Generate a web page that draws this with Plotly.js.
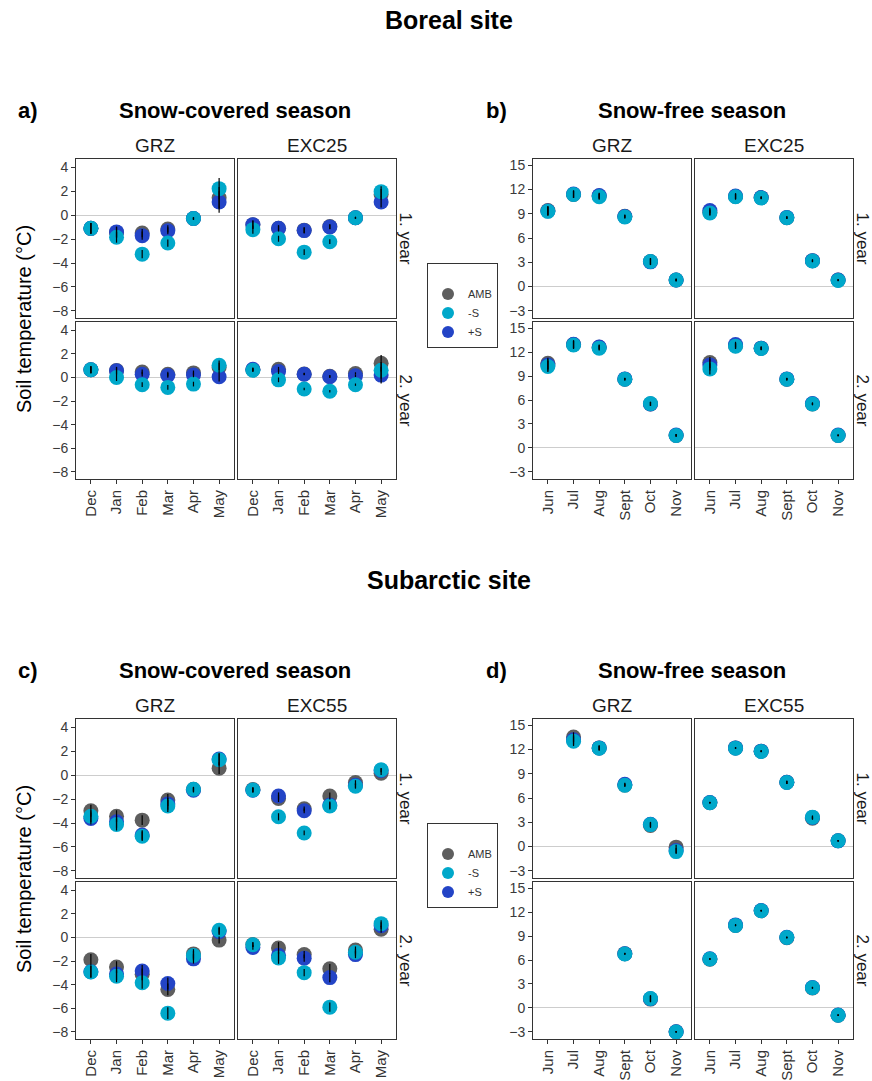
<!DOCTYPE html>
<html><head><meta charset="utf-8">
<script src="https://cdn.plot.ly/plotly-3.0.1.min.js"></script>
<style>html,body{margin:0;padding:0;background:#fff}</style>
</head><body><div id="chart" style="width:872px;height:1081px"></div>
<script>
// ---------- categories ----------
const snowMonths = ['Dec','Jan','Feb','Mar','Apr','May'];
const freeMonths = ['Jun','Jul','Aug','Sept','Oct','Nov'];
const treatmentNames = ['AMB','-S','+S'];
const plotNames = {boreal:['GRZ','EXC25'], subarctic:['GRZ','EXC55']};
const yearLabels = ['1. year','2. year'];

// ---------- Boreal, snow-covered season ----------
const boreal_cov_y1_GRZ_AMB = [-1.1, -1.45, -1.5, -1.15, -0.28, 1.46];
const boreal_cov_y1_GRZ_mS  = [-1.1, -1.85, -3.26, -2.33, -0.28, 2.22];
const boreal_cov_y1_GRZ_pS  = [-1.1, -1.4, -1.71, -1.3, -0.28, 1.1];
const boreal_cov_y1_GRZ_err = [0.45, 0.45, 0.35, 0.3, 0.1, 0.9];
const boreal_cov_y1_EXC_AMB = [-0.8, -1.1, -1.25, -0.95, -0.22, 1.74];
const boreal_cov_y1_EXC_mS  = [-1.21, -1.97, -3.09, -2.22, -0.22, 1.97];
const boreal_cov_y1_EXC_pS  = [-0.79, -1.1, -1.29, -0.98, -0.22, 1.1];
const boreal_cov_y1_EXC_err = [0.35, 0.25, 0.25, 0.2, 0.08, 0.45];
const boreal_cov_y2_GRZ_AMB = [0.65, 0.6, 0.47, 0.28, 0.39, 0.84];
const boreal_cov_y2_GRZ_mS  = [0.65, 0.0, -0.61, -0.84, -0.56, 1.03];
const boreal_cov_y2_GRZ_pS  = [0.65, 0.56, 0.28, 0.17, 0.22, 0.06];
const boreal_cov_y2_GRZ_err = [0.3, 0.3, 0.2, 0.2, 0.2, 0.4];
const boreal_cov_y2_EXC_AMB = [0.65, 0.7, 0.3, 0.1, 0.34, 1.2];
const boreal_cov_y2_EXC_mS  = [0.61, -0.2, -0.98, -1.17, -0.61, 0.61];
const boreal_cov_y2_EXC_pS  = [0.7, 0.5, 0.28, 0.06, 0.14, 0.2];
const boreal_cov_y2_EXC_err = [0.15, 0.2, 0.1, 0.1, 0.1, 0.7];

// ---------- Boreal, snow-free season ----------
const boreal_free_y1_GRZ_AMB = [9.4, 11.4, 11.2, 8.7, 3.1, 0.8];
const boreal_free_y1_GRZ_mS  = [9.3, 11.4, 11.1, 8.6, 3.1, 0.8];
const boreal_free_y1_GRZ_pS  = [9.35, 11.45, 11.25, 8.65, 3.05, 0.8];
const boreal_free_y1_GRZ_err = [0.55, 0.45, 0.35, 0.2, 0.4, 0.15];
const boreal_free_y1_EXC_AMB = [9.2, 11.15, 11.0, 8.5, 3.2, 0.8];
const boreal_free_y1_EXC_mS  = [9.1, 11.1, 10.95, 8.5, 3.15, 0.75];
const boreal_free_y1_EXC_pS  = [9.4, 11.2, 11.0, 8.55, 3.2, 0.8];
const boreal_free_y1_EXC_err = [0.35, 0.35, 0.15, 0.15, 0.15, 0.1];
const boreal_free_y2_GRZ_AMB = [10.6, 12.95, 12.6, 8.6, 5.5, 1.55];
const boreal_free_y2_GRZ_mS  = [10.2, 12.9, 12.5, 8.6, 5.55, 1.55];
const boreal_free_y2_GRZ_pS  = [10.4, 13.0, 12.65, 8.65, 5.5, 1.6];
const boreal_free_y2_GRZ_err = [0.7, 0.5, 0.3, 0.15, 0.25, 0.15];
const boreal_free_y2_EXC_AMB = [10.7, 12.8, 12.5, 8.6, 5.5, 1.55];
const boreal_free_y2_EXC_mS  = [9.9, 12.75, 12.45, 8.6, 5.5, 1.55];
const boreal_free_y2_EXC_pS  = [10.4, 12.95, 12.5, 8.65, 5.55, 1.6];
const boreal_free_y2_EXC_err = [0.7, 0.35, 0.2, 0.15, 0.15, 0.1];

// ---------- Subarctic, snow-covered season ----------
const subarctic_cov_y1_GRZ_AMB = [-2.98, -3.43, -3.76, -2.08, -1.18, 0.59];
const subarctic_cov_y1_GRZ_mS  = [-3.43, -4.13, -5.11, -2.58, -1.18, 1.29];
const subarctic_cov_y1_GRZ_pS  = [-3.62, -3.9, -5.0, -2.4, -1.25, 1.35];
const subarctic_cov_y1_GRZ_err = [0.5, 0.5, 0.4, 0.5, 0.2, 0.5];
const subarctic_cov_y1_EXC_AMB = [-1.2, -1.94, -2.81, -1.74, -0.62, 0.17];
const subarctic_cov_y1_EXC_mS  = [-1.24, -3.48, -4.83, -2.58, -0.93, 0.45];
const subarctic_cov_y1_EXC_pS  = [-1.25, -1.74, -2.98, -2.5, -0.85, 0.4];
const subarctic_cov_y1_EXC_err = [0.2, 0.3, 0.2, 0.3, 0.2, 0.15];
const subarctic_cov_y2_GRZ_AMB = [-1.89, -2.51, -3.12, -4.4, -1.39, -0.22];
const subarctic_cov_y2_GRZ_mS  = [-2.92, -3.29, -3.84, -6.41, -1.53, 0.61];
const subarctic_cov_y2_GRZ_pS  = [-2.9, -3.1, -2.84, -3.9, -1.81, 0.5];
const subarctic_cov_y2_GRZ_err = [0.5, 0.5, 0.5, 0.5, 0.4, 0.3];
const subarctic_cov_y2_EXC_AMB = [-0.6, -0.89, -1.45, -2.65, -1.06, 0.7];
const subarctic_cov_y2_EXC_mS  = [-0.61, -1.73, -2.98, -5.9, -1.25, 1.17];
const subarctic_cov_y2_EXC_pS  = [-0.84, -1.5, -1.75, -3.4, -1.45, 1.0];
const subarctic_cov_y2_EXC_err = [0.2, 0.5, 0.3, 0.4, 0.3, 0.3];

// ---------- Subarctic, snow-free season ----------
const subarctic_free_y1_GRZ_AMB = [null, 13.54, 12.2, 7.6, 2.6, -0.08];
const subarctic_free_y1_GRZ_mS  = [null, 13.04, 12.17, 7.58, 2.71, -0.63];
const subarctic_free_y1_GRZ_pS  = [null, 13.2, 12.2, 7.7, 2.75, -0.5];
const subarctic_free_y1_GRZ_err = [null, 0.6, 0.3, 0.2, 0.3, 0.3];
const subarctic_free_y1_EXC_AMB = [5.42, 12.2, 11.8, 7.95, 3.5, 0.71];
const subarctic_free_y1_EXC_mS  = [5.42, 12.17, 11.75, 7.92, 3.63, 0.71];
const subarctic_free_y1_EXC_pS  = [5.45, 12.2, 11.8, 7.95, 3.6, 0.7];
const subarctic_free_y1_EXC_err = [0.1, 0.1, 0.1, 0.2, 0.2, 0.1];
const subarctic_free_y2_GRZ_AMB = [null, null, null, 6.8, 1.1, -3.0];
const subarctic_free_y2_GRZ_mS  = [null, null, null, 6.76, 1.18, -3.03];
const subarctic_free_y2_GRZ_pS  = [null, null, null, 6.78, 1.15, -3.0];
const subarctic_free_y2_GRZ_err = [null, null, null, 0.1, 0.4, 0.1];
const subarctic_free_y2_EXC_AMB = [6.1, 10.34, 12.18, 8.8, 2.5, -0.92];
const subarctic_free_y2_EXC_mS  = [6.13, 10.34, 12.18, 8.82, 2.52, -0.92];
const subarctic_free_y2_EXC_pS  = [6.15, 10.4, 12.2, 8.85, 2.55, -0.9];
const subarctic_free_y2_EXC_err = [0.1, 0.1, 0.1, 0.1, 0.1, 0.1];

// ---------- styling ----------
const W = 872, H = 1081;
const FONT = 'Liberation Sans, Arial, Helvetica, sans-serif';
const colors = {AMB:'#5e5e5e', '-S':'#00a8ca', '+S':'#2344c6'};
const groupX = [[[76,234],[238,396]], [[533,691],[695,853]]]; // season: cov, free
const siteY  = [[[159,318],[322,479]], [[719,878],[882,1039]]]; // site: boreal, subarctic
const yCfg = {
  cov:  {range:[-8.6, 4.7],  tickvals:[-8,-6,-4,-2,0,2,4]},
  free: {range:[-3.9, 15.78], tickvals:[-3,0,3,6,9,12,15]}
};

const panels = [
  ['boreal',0,'cov',0,0, boreal_cov_y1_GRZ_AMB, boreal_cov_y1_GRZ_mS, boreal_cov_y1_GRZ_pS, boreal_cov_y1_GRZ_err],
  ['boreal',0,'cov',1,0, boreal_cov_y1_EXC_AMB, boreal_cov_y1_EXC_mS, boreal_cov_y1_EXC_pS, boreal_cov_y1_EXC_err],
  ['boreal',0,'cov',0,1, boreal_cov_y2_GRZ_AMB, boreal_cov_y2_GRZ_mS, boreal_cov_y2_GRZ_pS, boreal_cov_y2_GRZ_err],
  ['boreal',0,'cov',1,1, boreal_cov_y2_EXC_AMB, boreal_cov_y2_EXC_mS, boreal_cov_y2_EXC_pS, boreal_cov_y2_EXC_err],
  ['boreal',0,'free',0,0, boreal_free_y1_GRZ_AMB, boreal_free_y1_GRZ_mS, boreal_free_y1_GRZ_pS, boreal_free_y1_GRZ_err],
  ['boreal',0,'free',1,0, boreal_free_y1_EXC_AMB, boreal_free_y1_EXC_mS, boreal_free_y1_EXC_pS, boreal_free_y1_EXC_err],
  ['boreal',0,'free',0,1, boreal_free_y2_GRZ_AMB, boreal_free_y2_GRZ_mS, boreal_free_y2_GRZ_pS, boreal_free_y2_GRZ_err],
  ['boreal',0,'free',1,1, boreal_free_y2_EXC_AMB, boreal_free_y2_EXC_mS, boreal_free_y2_EXC_pS, boreal_free_y2_EXC_err],
  ['subarctic',1,'cov',0,0, subarctic_cov_y1_GRZ_AMB, subarctic_cov_y1_GRZ_mS, subarctic_cov_y1_GRZ_pS, subarctic_cov_y1_GRZ_err],
  ['subarctic',1,'cov',1,0, subarctic_cov_y1_EXC_AMB, subarctic_cov_y1_EXC_mS, subarctic_cov_y1_EXC_pS, subarctic_cov_y1_EXC_err],
  ['subarctic',1,'cov',0,1, subarctic_cov_y2_GRZ_AMB, subarctic_cov_y2_GRZ_mS, subarctic_cov_y2_GRZ_pS, subarctic_cov_y2_GRZ_err],
  ['subarctic',1,'cov',1,1, subarctic_cov_y2_EXC_AMB, subarctic_cov_y2_EXC_mS, subarctic_cov_y2_EXC_pS, subarctic_cov_y2_EXC_err],
  ['subarctic',1,'free',0,0, subarctic_free_y1_GRZ_AMB, subarctic_free_y1_GRZ_mS, subarctic_free_y1_GRZ_pS, subarctic_free_y1_GRZ_err],
  ['subarctic',1,'free',1,0, subarctic_free_y1_EXC_AMB, subarctic_free_y1_EXC_mS, subarctic_free_y1_EXC_pS, subarctic_free_y1_EXC_err],
  ['subarctic',1,'free',0,1, subarctic_free_y2_GRZ_AMB, subarctic_free_y2_GRZ_mS, subarctic_free_y2_GRZ_pS, subarctic_free_y2_GRZ_err],
  ['subarctic',1,'free',1,1, subarctic_free_y2_EXC_AMB, subarctic_free_y2_EXC_mS, subarctic_free_y2_EXC_pS, subarctic_free_y2_EXC_err]
];

const px = v => v / W;
const py = v => 1 - v / H;

function legendCfg(topPx) {
  return {x:px(427), y:py(topPx), xanchor:'left', yanchor:'top', bordercolor:'#333', borderwidth:1,
    bgcolor:'#fff', font:{size:11, color:'#333', family:FONT}, itemsizing:'constant', tracegroupgap:0,
    title:{text:'&nbsp;', font:{size:12, family:FONT}}};
}

const traces = [];
const layout = {
  width: W, height: H,
  margin: {l:0, r:0, t:0, b:0},
  paper_bgcolor: '#fff', plot_bgcolor: '#fff',
  font: {family: FONT, color: '#1a1a1a'},
  showlegend: true,
  annotations: [],
  legend: legendCfg(263),
  legend2: legendCfg(823)
};

panels.forEach((p, i) => {
  const [site, siteIdx, season, col, row, amb, ms, ps, err] = p;
  const s = i === 0 ? '' : String(i + 1);
  const cats = season === 'cov' ? snowMonths : freeMonths;
  const sIdx = season === 'cov' ? 0 : 1;
  const [x0, x1] = groupX[sIdx][col];
  const [y0, y1] = siteY[siteIdx][row];
  layout['xaxis' + s] = {
    domain:[px(x0), px(x1)], anchor:'y' + s, type:'category',
    categoryorder:'array', categoryarray:cats, tickmode:'array', tickvals:cats,
    range:[-0.58, 5.58], showline:true, mirror:true, linecolor:'#333', linewidth:1,
    showgrid:false, zeroline:false, ticks: row === 1 ? 'outside' : '', ticklen:4, tickcolor:'#333',
    showticklabels: row === 1, tickangle:-90, tickfont:{size:15, color:'#333', family:FONT},
    fixedrange:true
  };
  const yc = yCfg[season];
  layout['yaxis' + s] = {
    domain:[py(y1), py(y0)], anchor:'x' + s, range:yc.range, tickmode:'array', tickvals:yc.tickvals,
    showline:true, mirror:true, linecolor:'#333', linewidth:1, showgrid:false,
    zeroline:true, zerolinecolor:'#cdcdcd', zerolinewidth:1,
    ticks: col === 0 ? 'outside' : '', ticklen:4, tickcolor:'#333',
    showticklabels: col === 0, tickfont:{size:14, color:'#3a3a3a', family:FONT}, fixedrange:true
  };
  const showLeg = (col === 0 && row === 0 && season === 'cov');
  const legKey = siteIdx === 0 ? 'legend' : 'legend2';
  const series = [['AMB', amb, 1], ['+S', ps, 3], ['-S', ms, 2]];
  series.forEach(([name, vals, rank]) => {
    traces.push({
      type:'scatter', mode:'markers', x:cats, y:vals, name:name,
      xaxis:'x' + s, yaxis:'y' + s, legend:legKey, legendrank:rank,
      showlegend: showLeg,
      marker:{color:colors[name], size:15, line:{width:0}},
      hoverinfo:'x+y+name'
    });
  });
  // black error bars drawn over the points
  traces.push({
    type:'scatter', mode:'markers',
    x:cats.concat(cats, cats), y:amb.concat(ps, ms),
    xaxis:'x' + s, yaxis:'y' + s, showlegend:false, hoverinfo:'skip',
    marker:{size:1, color:'rgba(0,0,0,0)'},
    error_y:{type:'data', array:err.concat(err, err), visible:true, color:'#000', thickness:1.2, width:0}
  });

  // facet strip labels
  if (row === 0) {
    layout.annotations.push({text:plotNames[site][col], xref:'paper', yref:'paper',
      x:px((x0 + x1) / 2), y:py(y0 - 14), xanchor:'center', yanchor:'middle', showarrow:false,
      font:{size:19, color:'#1a1a1a', family:FONT}});
  }
  if (col === 1) {
    layout.annotations.push({text:yearLabels[row], xref:'paper', yref:'paper',
      x:px(x1 + 9), y:py((y0 + y1) / 2), xanchor:'center', yanchor:'middle', showarrow:false,
      textangle:90, font:{size:17, color:'#1a1a1a', family:FONT}});
  }
});

// titles
function addText(text, x, y, size, anchor, angle) {
  layout.annotations.push({text:text, xref:'paper', yref:'paper', x:px(x), y:py(y),
    xanchor:anchor || 'center', yanchor:'middle', showarrow:false, textangle:angle || 0,
    font:{size:size, color:'#000', family:FONT}});
}
addText('<b>Boreal site</b>', 449, 20, 25);
addText('<b>Subarctic site</b>', 449, 580, 25);
addText('<b>a)</b>', 16, 110, 22, 'left');
addText('<b>Snow-covered season</b>', 235, 110, 22);
addText('<b>b)</b>', 484, 110, 22, 'left');
addText('<b>Snow-free season</b>', 692, 110, 22);
addText('<b>c)</b>', 16, 670, 22, 'left');
addText('<b>Snow-covered season</b>', 235, 670, 22);
addText('<b>d)</b>', 484, 670, 22, 'left');
addText('<b>Snow-free season</b>', 692, 670, 22);
addText('Soil temperature (°C)', 24, 319, 20, 'center', -90);
addText('Soil temperature (°C)', 24, 879, 20, 'center', -90);

Plotly.newPlot('chart', traces, layout, {displayModeBar:false, staticPlot:true});
</script>
</body></html>
